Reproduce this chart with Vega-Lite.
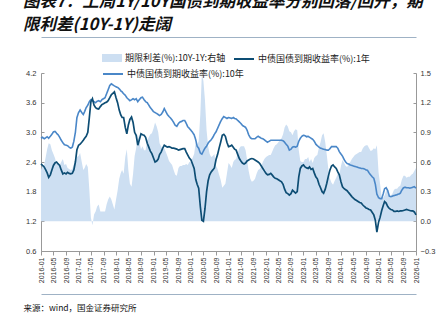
{
"$schema": "https://vega.github.io/schema/vega-lite/v6.json",
"autosize": "none",
"width": 375, "height": 178,
"padding": {"left": 41, "top": 73, "right": 30, "bottom": 72},
"background": "white",
"config": {"view": {"stroke": null}, "font": "Liberation Sans"},
"title": {"text": ["图表7：上周1Y/10Y国债到期收益率分别回落/回升，期", "限利差(10Y-1Y)走阔"], "anchor": "start", "frame": "group", "dx": -18, "dy": 2, "font": "Noto Sans CJK SC", "fontSize": 16.5, "fontStyle": "italic", "fontWeight": "bold", "lineHeight": 23, "color": "#111111", "offset": 6},
"data": {"values": [
{"date":"2016-01-01","y1":2.36,"y10":2.88,"spread":0.52},
{"date":"2016-01-16","y1":2.33,"y10":2.90,"spread":0.57},
{"date":"2016-02-01","y1":2.30,"y10":2.87,"spread":0.57},
{"date":"2016-02-16","y1":2.24,"y10":2.89,"spread":0.65},
{"date":"2016-03-01","y1":2.18,"y10":2.91,"spread":0.73},
{"date":"2016-03-16","y1":2.09,"y10":2.88,"spread":0.79},
{"date":"2016-04-01","y1":2.14,"y10":2.92,"spread":0.78},
{"date":"2016-04-16","y1":2.24,"y10":2.96,"spread":0.72},
{"date":"2016-05-01","y1":2.33,"y10":3.01,"spread":0.68},
{"date":"2016-05-16","y1":2.38,"y10":3.02,"spread":0.64},
{"date":"2016-06-01","y1":2.40,"y10":2.98,"spread":0.58},
{"date":"2016-06-16","y1":2.36,"y10":2.95,"spread":0.59},
{"date":"2016-07-01","y1":2.33,"y10":2.90,"spread":0.57},
{"date":"2016-07-16","y1":2.24,"y10":2.84,"spread":0.60},
{"date":"2016-08-01","y1":2.16,"y10":2.79,"spread":0.63},
{"date":"2016-08-16","y1":2.18,"y10":2.75,"spread":0.57},
{"date":"2016-09-01","y1":2.16,"y10":2.74,"spread":0.58},
{"date":"2016-09-16","y1":2.19,"y10":2.73,"spread":0.54},
{"date":"2016-10-01","y1":2.17,"y10":2.70,"spread":0.53},
{"date":"2016-10-16","y1":2.16,"y10":2.68,"spread":0.52},
{"date":"2016-11-01","y1":2.17,"y10":2.70,"spread":0.53},
{"date":"2016-11-16","y1":2.24,"y10":2.82,"spread":0.58},
{"date":"2016-12-01","y1":2.40,"y10":3.00,"spread":0.60},
{"date":"2016-12-16","y1":2.65,"y10":3.30,"spread":0.65},
{"date":"2017-01-01","y1":2.74,"y10":3.40,"spread":0.66},
{"date":"2017-01-16","y1":2.76,"y10":3.45,"spread":0.69},
{"date":"2017-02-01","y1":2.80,"y10":3.40,"spread":0.60},
{"date":"2017-02-16","y1":2.84,"y10":3.36,"spread":0.52},
{"date":"2017-03-01","y1":2.88,"y10":3.42,"spread":0.54},
{"date":"2017-03-16","y1":2.92,"y10":3.50,"spread":0.58},
{"date":"2017-04-01","y1":3.00,"y10":3.55,"spread":0.55},
{"date":"2017-04-16","y1":3.30,"y10":3.62,"spread":0.32},
{"date":"2017-05-01","y1":3.62,"y10":3.66,"spread":0.04},
{"date":"2017-05-16","y1":3.68,"y10":3.64,"spread":-0.04},
{"date":"2017-06-01","y1":3.55,"y10":3.62,"spread":0.07},
{"date":"2017-06-16","y1":3.50,"y10":3.60,"spread":0.10},
{"date":"2017-07-01","y1":3.48,"y10":3.63,"spread":0.15},
{"date":"2017-07-16","y1":3.47,"y10":3.64,"spread":0.17},
{"date":"2017-08-01","y1":3.52,"y10":3.62,"spread":0.10},
{"date":"2017-08-16","y1":3.56,"y10":3.66,"spread":0.10},
{"date":"2017-09-01","y1":3.58,"y10":3.68,"spread":0.10},
{"date":"2017-09-16","y1":3.60,"y10":3.70,"spread":0.10},
{"date":"2017-10-01","y1":3.61,"y10":3.78,"spread":0.17},
{"date":"2017-10-16","y1":3.64,"y10":3.86,"spread":0.22},
{"date":"2017-11-01","y1":3.70,"y10":3.95,"spread":0.25},
{"date":"2017-11-16","y1":3.76,"y10":3.98,"spread":0.22},
{"date":"2017-12-01","y1":3.79,"y10":3.96,"spread":0.17},
{"date":"2017-12-16","y1":3.82,"y10":3.94,"spread":0.12},
{"date":"2018-01-01","y1":3.70,"y10":3.92,"spread":0.22},
{"date":"2018-01-16","y1":3.60,"y10":3.91,"spread":0.31},
{"date":"2018-02-01","y1":3.45,"y10":3.88,"spread":0.43},
{"date":"2018-02-16","y1":3.35,"y10":3.84,"spread":0.49},
{"date":"2018-03-01","y1":3.30,"y10":3.82,"spread":0.52},
{"date":"2018-03-16","y1":3.30,"y10":3.78,"spread":0.48},
{"date":"2018-04-01","y1":3.10,"y10":3.75,"spread":0.65},
{"date":"2018-04-16","y1":2.97,"y10":3.70,"spread":0.73},
{"date":"2018-05-01","y1":3.15,"y10":3.67,"spread":0.52},
{"date":"2018-05-16","y1":3.26,"y10":3.64,"spread":0.38},
{"date":"2018-06-01","y1":3.31,"y10":3.66,"spread":0.35},
{"date":"2018-06-16","y1":3.20,"y10":3.68,"spread":0.48},
{"date":"2018-07-01","y1":3.00,"y10":3.66,"spread":0.66},
{"date":"2018-07-16","y1":2.94,"y10":3.68,"spread":0.74},
{"date":"2018-08-01","y1":2.74,"y10":3.62,"spread":0.88},
{"date":"2018-08-16","y1":2.85,"y10":3.66,"spread":0.81},
{"date":"2018-09-01","y1":2.97,"y10":3.70,"spread":0.73},
{"date":"2018-09-16","y1":2.95,"y10":3.71,"spread":0.76},
{"date":"2018-10-01","y1":2.94,"y10":3.66,"spread":0.72},
{"date":"2018-10-16","y1":2.90,"y10":3.62,"spread":0.72},
{"date":"2018-11-01","y1":2.78,"y10":3.60,"spread":0.82},
{"date":"2018-11-16","y1":2.70,"y10":3.55,"spread":0.85},
{"date":"2018-12-01","y1":2.62,"y10":3.50,"spread":0.88},
{"date":"2018-12-16","y1":2.57,"y10":3.46,"spread":0.89},
{"date":"2019-01-01","y1":2.48,"y10":3.42,"spread":0.94},
{"date":"2019-01-16","y1":2.40,"y10":3.40,"spread":1.00},
{"date":"2019-02-01","y1":2.42,"y10":3.38,"spread":0.96},
{"date":"2019-02-16","y1":2.46,"y10":3.36,"spread":0.90},
{"date":"2019-03-01","y1":2.55,"y10":3.34,"spread":0.79},
{"date":"2019-03-16","y1":2.60,"y10":3.36,"spread":0.76},
{"date":"2019-04-01","y1":2.68,"y10":3.41,"spread":0.73},
{"date":"2019-04-16","y1":2.74,"y10":3.48,"spread":0.74},
{"date":"2019-05-01","y1":2.72,"y10":3.42,"spread":0.70},
{"date":"2019-05-16","y1":2.70,"y10":3.36,"spread":0.66},
{"date":"2019-06-01","y1":2.71,"y10":3.32,"spread":0.61},
{"date":"2019-06-16","y1":2.70,"y10":3.29,"spread":0.59},
{"date":"2019-07-01","y1":2.68,"y10":3.25,"spread":0.57},
{"date":"2019-07-16","y1":2.68,"y10":3.20,"spread":0.52},
{"date":"2019-08-01","y1":2.67,"y10":3.14,"spread":0.47},
{"date":"2019-08-16","y1":2.66,"y10":3.12,"spread":0.46},
{"date":"2019-09-01","y1":2.64,"y10":3.18,"spread":0.54},
{"date":"2019-09-16","y1":2.65,"y10":3.21,"spread":0.56},
{"date":"2019-10-01","y1":2.66,"y10":3.22,"spread":0.56},
{"date":"2019-10-16","y1":2.67,"y10":3.24,"spread":0.57},
{"date":"2019-11-01","y1":2.67,"y10":3.24,"spread":0.57},
{"date":"2019-11-16","y1":2.60,"y10":3.18,"spread":0.58},
{"date":"2019-12-01","y1":2.54,"y10":3.11,"spread":0.57},
{"date":"2019-12-16","y1":2.48,"y10":3.08,"spread":0.60},
{"date":"2020-01-01","y1":2.44,"y10":3.04,"spread":0.60},
{"date":"2020-01-16","y1":2.36,"y10":3.00,"spread":0.64},
{"date":"2020-02-01","y1":2.27,"y10":2.95,"spread":0.68},
{"date":"2020-02-16","y1":2.05,"y10":2.85,"spread":0.80},
{"date":"2020-03-01","y1":1.95,"y10":2.72,"spread":0.77},
{"date":"2020-03-16","y1":1.87,"y10":2.68,"spread":0.81},
{"date":"2020-04-01","y1":1.50,"y10":2.58,"spread":1.08},
{"date":"2020-04-16","y1":1.22,"y10":2.56,"spread":1.50},
{"date":"2020-05-01","y1":1.20,"y10":2.62,"spread":1.42},
{"date":"2020-05-16","y1":1.45,"y10":2.68,"spread":1.23},
{"date":"2020-06-01","y1":1.80,"y10":2.72,"spread":0.92},
{"date":"2020-06-16","y1":2.02,"y10":2.78,"spread":0.76},
{"date":"2020-07-01","y1":2.14,"y10":2.82,"spread":0.68},
{"date":"2020-07-16","y1":2.20,"y10":2.85,"spread":0.65},
{"date":"2020-08-01","y1":2.24,"y10":2.90,"spread":0.66},
{"date":"2020-08-16","y1":2.28,"y10":2.96,"spread":0.68},
{"date":"2020-09-01","y1":2.45,"y10":3.01,"spread":0.56},
{"date":"2020-09-16","y1":2.55,"y10":3.08,"spread":0.53},
{"date":"2020-10-01","y1":2.68,"y10":3.15,"spread":0.47},
{"date":"2020-10-16","y1":2.80,"y10":3.22,"spread":0.42},
{"date":"2020-11-01","y1":2.94,"y10":3.28,"spread":0.34},
{"date":"2020-11-16","y1":2.96,"y10":3.32,"spread":0.36},
{"date":"2020-12-01","y1":2.92,"y10":3.30,"spread":0.38},
{"date":"2020-12-16","y1":2.80,"y10":3.28,"spread":0.48},
{"date":"2021-01-01","y1":2.71,"y10":3.30,"spread":0.59},
{"date":"2021-01-16","y1":2.72,"y10":3.29,"spread":0.57},
{"date":"2021-02-01","y1":2.74,"y10":3.28,"spread":0.54},
{"date":"2021-02-16","y1":2.70,"y10":3.30,"spread":0.60},
{"date":"2021-03-01","y1":2.66,"y10":3.28,"spread":0.62},
{"date":"2021-03-16","y1":2.64,"y10":3.27,"spread":0.63},
{"date":"2021-04-01","y1":2.55,"y10":3.24,"spread":0.69},
{"date":"2021-04-16","y1":2.47,"y10":3.21,"spread":0.74},
{"date":"2021-05-01","y1":2.42,"y10":3.18,"spread":0.76},
{"date":"2021-05-16","y1":2.38,"y10":3.14,"spread":0.76},
{"date":"2021-06-01","y1":2.36,"y10":3.12,"spread":0.76},
{"date":"2021-06-16","y1":2.38,"y10":3.10,"spread":0.72},
{"date":"2021-07-01","y1":2.42,"y10":3.04,"spread":0.62},
{"date":"2021-07-16","y1":2.44,"y10":2.95,"spread":0.51},
{"date":"2021-08-01","y1":2.46,"y10":2.89,"spread":0.43},
{"date":"2021-08-16","y1":2.47,"y10":2.87,"spread":0.40},
{"date":"2021-09-01","y1":2.46,"y10":2.87,"spread":0.41},
{"date":"2021-09-16","y1":2.44,"y10":2.87,"spread":0.43},
{"date":"2021-10-01","y1":2.42,"y10":2.90,"spread":0.48},
{"date":"2021-10-16","y1":2.40,"y10":2.92,"spread":0.52},
{"date":"2021-11-01","y1":2.37,"y10":2.90,"spread":0.53},
{"date":"2021-11-16","y1":2.32,"y10":2.88,"spread":0.56},
{"date":"2021-12-01","y1":2.27,"y10":2.87,"spread":0.60},
{"date":"2021-12-16","y1":2.22,"y10":2.85,"spread":0.63},
{"date":"2022-01-01","y1":2.17,"y10":2.82,"spread":0.65},
{"date":"2022-01-16","y1":2.14,"y10":2.80,"spread":0.66},
{"date":"2022-02-01","y1":2.15,"y10":2.82,"spread":0.67},
{"date":"2022-02-16","y1":2.17,"y10":2.84,"spread":0.67},
{"date":"2022-03-01","y1":2.14,"y10":2.84,"spread":0.70},
{"date":"2022-03-16","y1":2.10,"y10":2.84,"spread":0.74},
{"date":"2022-04-01","y1":2.07,"y10":2.84,"spread":0.77},
{"date":"2022-04-16","y1":2.06,"y10":2.84,"spread":0.78},
{"date":"2022-05-01","y1":2.04,"y10":2.84,"spread":0.80},
{"date":"2022-05-16","y1":2.02,"y10":2.84,"spread":0.82},
{"date":"2022-06-01","y1":2.00,"y10":2.84,"spread":0.84},
{"date":"2022-06-16","y1":1.95,"y10":2.83,"spread":0.88},
{"date":"2022-07-01","y1":1.85,"y10":2.80,"spread":0.95},
{"date":"2022-07-16","y1":1.78,"y10":2.76,"spread":0.98},
{"date":"2022-08-01","y1":1.76,"y10":2.72,"spread":0.96},
{"date":"2022-08-16","y1":1.73,"y10":2.64,"spread":0.91},
{"date":"2022-09-01","y1":1.76,"y10":2.66,"spread":0.90},
{"date":"2022-09-16","y1":1.83,"y10":2.70,"spread":0.87},
{"date":"2022-10-01","y1":1.80,"y10":2.71,"spread":0.91},
{"date":"2022-10-16","y1":1.77,"y10":2.70,"spread":0.93},
{"date":"2022-11-01","y1":1.80,"y10":2.72,"spread":0.92},
{"date":"2022-11-16","y1":2.10,"y10":2.82,"spread":0.72},
{"date":"2022-12-01","y1":2.27,"y10":2.88,"spread":0.61},
{"date":"2022-12-16","y1":2.32,"y10":2.92,"spread":0.60},
{"date":"2023-01-01","y1":2.34,"y10":2.94,"spread":0.60},
{"date":"2023-01-16","y1":2.30,"y10":2.93,"spread":0.63},
{"date":"2023-02-01","y1":2.28,"y10":2.91,"spread":0.63},
{"date":"2023-02-16","y1":2.27,"y10":2.92,"spread":0.65},
{"date":"2023-03-01","y1":2.30,"y10":2.90,"spread":0.60},
{"date":"2023-03-16","y1":2.25,"y10":2.88,"spread":0.63},
{"date":"2023-04-01","y1":2.27,"y10":2.86,"spread":0.59},
{"date":"2023-04-16","y1":2.18,"y10":2.82,"spread":0.64},
{"date":"2023-05-01","y1":2.10,"y10":2.76,"spread":0.66},
{"date":"2023-05-16","y1":2.06,"y10":2.73,"spread":0.67},
{"date":"2023-06-01","y1":1.95,"y10":2.70,"spread":0.75},
{"date":"2023-06-16","y1":1.88,"y10":2.68,"spread":0.80},
{"date":"2023-07-01","y1":1.80,"y10":2.67,"spread":0.87},
{"date":"2023-07-16","y1":1.77,"y10":2.66,"spread":0.89},
{"date":"2023-08-01","y1":1.85,"y10":2.65,"spread":0.80},
{"date":"2023-08-16","y1":1.97,"y10":2.64,"spread":0.67},
{"date":"2023-09-01","y1":2.12,"y10":2.64,"spread":0.52},
{"date":"2023-09-16","y1":2.24,"y10":2.67,"spread":0.43},
{"date":"2023-10-01","y1":2.32,"y10":2.71,"spread":0.39},
{"date":"2023-10-16","y1":2.34,"y10":2.71,"spread":0.37},
{"date":"2023-11-01","y1":2.30,"y10":2.71,"spread":0.41},
{"date":"2023-11-16","y1":2.27,"y10":2.71,"spread":0.44},
{"date":"2023-12-01","y1":2.20,"y10":2.68,"spread":0.48},
{"date":"2023-12-16","y1":2.14,"y10":2.61,"spread":0.47},
{"date":"2024-01-01","y1":2.00,"y10":2.56,"spread":0.56},
{"date":"2024-01-16","y1":1.90,"y10":2.52,"spread":0.62},
{"date":"2024-02-01","y1":1.86,"y10":2.45,"spread":0.59},
{"date":"2024-02-16","y1":1.84,"y10":2.40,"spread":0.56},
{"date":"2024-03-01","y1":1.82,"y10":2.37,"spread":0.55},
{"date":"2024-03-16","y1":1.78,"y10":2.36,"spread":0.58},
{"date":"2024-04-01","y1":1.74,"y10":2.34,"spread":0.60},
{"date":"2024-04-16","y1":1.70,"y10":2.33,"spread":0.63},
{"date":"2024-05-01","y1":1.67,"y10":2.32,"spread":0.65},
{"date":"2024-05-16","y1":1.64,"y10":2.31,"spread":0.67},
{"date":"2024-06-01","y1":1.62,"y10":2.30,"spread":0.68},
{"date":"2024-06-16","y1":1.60,"y10":2.29,"spread":0.69},
{"date":"2024-07-01","y1":1.58,"y10":2.28,"spread":0.70},
{"date":"2024-07-16","y1":1.57,"y10":2.27,"spread":0.70},
{"date":"2024-08-01","y1":1.53,"y10":2.27,"spread":0.74},
{"date":"2024-08-16","y1":1.50,"y10":2.26,"spread":0.76},
{"date":"2024-09-01","y1":1.47,"y10":2.24,"spread":0.77},
{"date":"2024-09-16","y1":1.46,"y10":2.23,"spread":0.77},
{"date":"2024-10-01","y1":1.44,"y10":2.18,"spread":0.74},
{"date":"2024-10-16","y1":1.43,"y10":2.14,"spread":0.71},
{"date":"2024-11-01","y1":1.38,"y10":2.10,"spread":0.72},
{"date":"2024-11-16","y1":1.33,"y10":2.07,"spread":0.74},
{"date":"2024-12-01","y1":1.22,"y10":1.95,"spread":0.73},
{"date":"2024-12-16","y1":0.98,"y10":1.75,"spread":0.77},
{"date":"2025-01-01","y1":1.18,"y10":1.68,"spread":0.50},
{"date":"2025-01-16","y1":1.28,"y10":1.66,"spread":0.38},
{"date":"2025-02-01","y1":1.42,"y10":1.66,"spread":0.24},
{"date":"2025-02-16","y1":1.52,"y10":1.76,"spread":0.24},
{"date":"2025-03-01","y1":1.60,"y10":1.86,"spread":0.26},
{"date":"2025-03-16","y1":1.57,"y10":1.88,"spread":0.31},
{"date":"2025-04-01","y1":1.50,"y10":1.82,"spread":0.32},
{"date":"2025-04-16","y1":1.46,"y10":1.71,"spread":0.25},
{"date":"2025-05-01","y1":1.44,"y10":1.70,"spread":0.26},
{"date":"2025-05-16","y1":1.43,"y10":1.71,"spread":0.28},
{"date":"2025-06-01","y1":1.40,"y10":1.72,"spread":0.32},
{"date":"2025-06-16","y1":1.40,"y10":1.73,"spread":0.33},
{"date":"2025-07-01","y1":1.41,"y10":1.74,"spread":0.33},
{"date":"2025-07-16","y1":1.40,"y10":1.75,"spread":0.35},
{"date":"2025-08-01","y1":1.41,"y10":1.77,"spread":0.36},
{"date":"2025-08-16","y1":1.41,"y10":1.83,"spread":0.42},
{"date":"2025-09-01","y1":1.42,"y10":1.88,"spread":0.46},
{"date":"2025-09-16","y1":1.43,"y10":1.89,"spread":0.46},
{"date":"2025-10-01","y1":1.44,"y10":1.88,"spread":0.44},
{"date":"2025-10-16","y1":1.43,"y10":1.88,"spread":0.45},
{"date":"2025-11-01","y1":1.42,"y10":1.87,"spread":0.45},
{"date":"2025-11-16","y1":1.41,"y10":1.88,"spread":0.47},
{"date":"2025-12-01","y1":1.41,"y10":1.89,"spread":0.48},
{"date":"2025-12-16","y1":1.39,"y10":1.90,"spread":0.51},
{"date":"2026-01-01","y1":1.33,"y10":1.87,"spread":0.54}
]},
"layer": [
{"mark": {"type": "area"},
 "encoding": {
  "x": {"field": "date", "type": "temporal", "scale": {"domain": ["2016-01-01", "2026-01-01"]},
    "axis": {"orient": "bottom", "format": "%Y-%m", "tickCount": {"interval": "month", "step": 4}, "labelAngle": -90, "labelFont": "Liberation Sans", "labelFontSize": 7, "labelColor": "#333333", "labelFlush": false, "labelOverlap": false, "tickSize": 4, "labelPadding": 2, "tickColor": "#999999", "domainColor": "#999999", "grid": false,
      "title": "来源：wind，国金证券研究所", "titleX": -18, "titleY": 56, "titleAlign": "left", "titleAnchor": "start", "titleBaseline": "middle", "titleFont": "Noto Sans CJK SC", "titleFontSize": 8.5, "titleFontWeight": "normal", "titleColor": "#111111"}},
  "y": {"field": "spread", "type": "quantitative", "scale": {"domain": [-0.3, 1.5], "nice": false, "zero": false},
    "axis": {"orient": "right", "values": [-0.3, 0, 0.3, 0.6, 0.9, 1.2, 1.5], "format": ".1f", "labelFont": "Liberation Sans", "labelFontSize": 7.5, "labelColor": "#333333", "tickSize": -3, "labelPadding": 7, "tickColor": "#999999", "domainColor": "#999999", "grid": false, "title": null}},
  "y2": {"datum": 0},
  "fill": {"datum": "期限利差(%):10Y-1Y:右轴", "scale": {"range": ["#cddff2"]},
    "legend": {"orient": "none", "legendX": 61, "legendY": -25, "title": null, "padding": 0, "symbolType": "M-1,-0.4H1V0.4H-1Z", "symbolSize": 400, "symbolStrokeWidth": 0, "labelFont": "Noto Sans CJK SC", "labelFontSize": 9, "labelColor": "#222222", "labelOffset": 3}}
 }},
{"mark": {"type": "line", "stroke": "#4a87c8", "strokeWidth": 1.6},
 "encoding": {
  "x": {"field": "date", "type": "temporal", "axis": {"orient": "top", "offset": 36, "labels": false, "ticks": false, "grid": false, "title": null, "domainColor": "#9fb2c5", "domainWidth": 1.2}},
  "y": {"field": "y10", "type": "quantitative", "scale": {"domain": [0.6, 4.2], "nice": false, "zero": false},
    "axis": {"orient": "left", "values": [0.6, 1.2, 1.8, 2.4, 3.0, 3.6, 4.2], "format": ".1f", "labelFont": "Liberation Sans", "labelFontSize": 7.5, "labelColor": "#333333", "tickSize": -3, "labelPadding": 8, "tickColor": "#999999", "domainColor": "#999999", "grid": false, "title": null}},
  "strokeDash": {"datum": "中债国债到期收益率(%):10年", "scale": {"range": [[1, 0]]},
    "legend": {"orient": "none", "legendX": 61, "legendY": -10, "title": null, "padding": 0, "symbolType": "stroke", "symbolSize": 400, "symbolStrokeWidth": 2, "symbolStrokeColor": "#4a87c8", "labelFont": "Noto Sans CJK SC", "labelFontSize": 9, "labelColor": "#222222", "labelOffset": 3}}
 }},
{"mark": {"type": "line", "strokeWidth": 1.7},
 "encoding": {
  "x": {"field": "date", "type": "temporal", "axis": {"orient": "bottom", "offset": 43, "labels": false, "ticks": false, "grid": false, "title": null, "domainColor": "#9fb2c5", "domainWidth": 1.2}},
  "y": {"field": "y1", "type": "quantitative", "scale": {"domain": [0.6, 4.2], "nice": false, "zero": false}, "axis": null},
  "stroke": {"datum": "中债国债到期收益率(%):1年", "scale": {"range": ["#0d4d74"]},
    "legend": {"orient": "none", "legendX": 192, "legendY": -25, "title": null, "padding": 0, "symbolType": "stroke", "symbolSize": 400, "symbolStrokeWidth": 2, "labelFont": "Noto Sans CJK SC", "labelFontSize": 9, "labelColor": "#222222", "labelOffset": 3}}
 }}
],
"resolve": {"scale": {"y": "independent"}, "axis": {"x": "independent", "y": "independent"}}
}
